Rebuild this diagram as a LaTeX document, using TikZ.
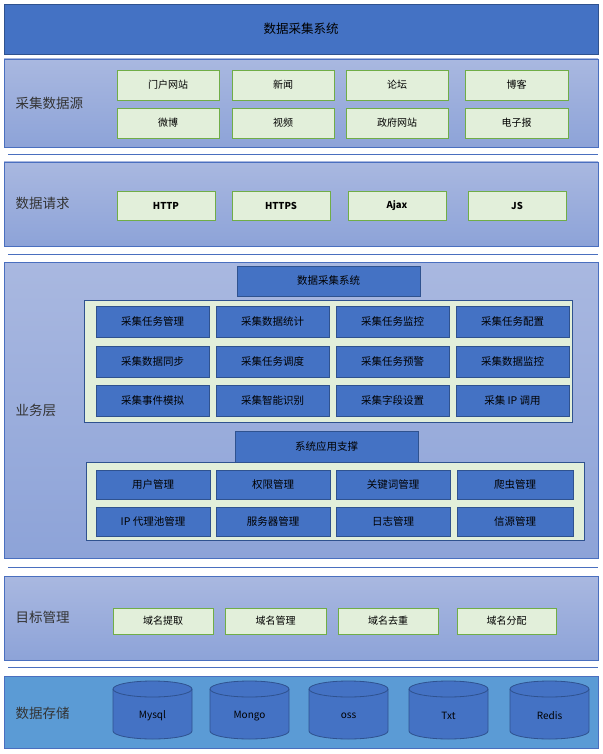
\documentclass[tikz,border=0pt]{standalone}
\usepackage{fontspec}
\setmainfont{Noto Sans CJK SC}
\begin{document}
\begin{tikzpicture}[x=1pt,y=1pt,
  layer/.style={draw=laybd,line width=0.8pt,top color=laytop,bottom color=laybot},
  green/.style={draw=grnbd,fill=grnfill,line width=0.8pt,font=\fontsize{10}{12}\selectfont,text=black},
  dark/.style={draw=drkbd,fill=drk,line width=0.8pt,font=\fontsize{10.5}{12}\selectfont,text=black},
  lbl/.style={anchor=west,font=\fontsize{13.5}{16}\selectfont,text=black!80},
  sep/.style={draw=laybd,line width=0.8pt}]
\definecolor{laybd}{HTML}{4A6FBF}
\definecolor{laytop}{HTML}{A9B8E0}
\definecolor{laybot}{HTML}{8DA3D8}
\definecolor{grnbd}{HTML}{70AD47}
\definecolor{grnfill}{HTML}{E2EFDA}
\definecolor{drk}{HTML}{4472C4}
\definecolor{drkbd}{HTML}{2F528F}
\definecolor{store}{HTML}{5B9BD5}
\newcommand{\bx}[7]{\node[#6,inner sep=0pt,outer sep=0pt,minimum width={(#4-#2)*1pt},minimum height={(#5-#3)*1pt}] (#1) at ({(#2+#4)/2},{-(#3+#5)/2}) {#7};}
\useasboundingbox (0,0) rectangle (602,-754);
% title
\bx{title}{4}{4}{598}{54}{draw=drkbd,fill=drk,line width=0.8pt,font=\fontsize{12.5}{14}\selectfont}{数据采集系统}
% layer 1
\bx{L1}{4}{59}{598}{147}{layer}{}
\node[lbl] (l1) at (12,-103) {采集数据源};
\bx{a1}{117}{70}{219}{100}{green}{门户网站}
\bx{a2}{232}{70}{334}{100}{green}{新闻}
\bx{a3}{346}{70}{448}{100}{green}{论坛}
\bx{a4}{465}{70}{568}{100}{green}{博客}
\bx{a5}{117}{108}{219}{138}{green}{微博}
\bx{a6}{232}{108}{334}{138}{green}{视频}
\bx{a7}{346}{108}{448}{138}{green}{政府网站}
\bx{a8}{465}{108}{568}{138}{green}{电子报}
\coordinate (s1a) at (8,-154); \coordinate (s1b) at (598,-154);
\draw[sep] (s1a) -- (s1b);
% layer 2
\bx{L2}{4}{162}{598}{246}{layer}{}
\node[lbl] (l2) at (12,-203) {数据请求};
\bx{b1}{117}{191}{215}{220}{green,font=\fontsize{9.5}{11}\selectfont\bfseries}{HTTP}
\bx{b2}{232}{191}{330}{220}{green,font=\fontsize{9.5}{11}\selectfont\bfseries}{HTTPS}
\bx{b3}{348}{191}{446}{220}{green,font=\fontsize{9.5}{11}\selectfont\bfseries}{Ajax}
\bx{b4}{468}{191}{566}{220}{green,font=\fontsize{9.5}{11}\selectfont\bfseries}{JS}
\coordinate (s2a) at (8,-254); \coordinate (s2b) at (598,-254);
\draw[sep] (s2a) -- (s2b);
% layer 3
\bx{L3}{4}{262}{598}{558}{layer}{}
\node[lbl] (l3) at (12,-410) {业务层};
\bx{c0}{237}{266}{420}{296}{dark}{数据采集系统}
\bx{P1}{84}{300}{572}{422}{draw=drkbd,fill=grnfill,line width=0.8pt}{}
\bx{c1}{96}{306}{209}{337}{dark}{采集任务管理}
\bx{c2}{216}{306}{329}{337}{dark}{采集数据统计}
\bx{c3}{336}{306}{449}{337}{dark}{采集任务监控}
\bx{c4}{456}{306}{569}{337}{dark}{采集任务配置}
\bx{c5}{96}{346}{209}{377}{dark}{采集数据同步}
\bx{c6}{216}{346}{329}{377}{dark}{采集任务调度}
\bx{c7}{336}{346}{449}{377}{dark}{采集任务预警}
\bx{c8}{456}{346}{569}{377}{dark}{采集数据监控}
\bx{c9}{96}{385}{209}{416}{dark}{采集事件模拟}
\bx{c10}{216}{385}{329}{416}{dark}{采集智能识别}
\bx{c11}{336}{385}{449}{416}{dark}{采集字段设置}
\bx{c12}{456}{385}{569}{416}{dark}{采集 IP 调用}
\bx{d0}{235}{431}{418}{462}{dark}{系统应用支撑}
\bx{P2}{86}{462}{584}{540}{draw=drkbd,fill=grnfill,line width=0.8pt}{}
\bx{d1}{96}{470}{210}{499}{dark}{用户管理}
\bx{d2}{216}{470}{330}{499}{dark}{权限管理}
\bx{d3}{336}{470}{450}{499}{dark}{关键词管理}
\bx{d4}{457}{470}{573}{499}{dark}{爬虫管理}
\bx{d5}{96}{507}{210}{536}{dark}{IP 代理池管理}
\bx{d6}{216}{507}{330}{536}{dark}{服务器管理}
\bx{d7}{336}{507}{450}{536}{dark}{日志管理}
\bx{d8}{457}{507}{573}{536}{dark}{信源管理}
\coordinate (s3a) at (8,-567); \coordinate (s3b) at (598,-567);
\draw[sep] (s3a) -- (s3b);
% layer 4
\bx{L4}{4}{576}{598}{660}{layer}{}
\node[lbl] (l4) at (12,-617) {目标管理};
\bx{e1}{113}{608}{213}{634}{green}{域名提取}
\bx{e2}{225}{608}{326}{634}{green}{域名管理}
\bx{e3}{338}{608}{438}{634}{green}{域名去重}
\bx{e4}{457}{608}{556}{634}{green}{域名分配}
\coordinate (s4a) at (8,-667); \coordinate (s4b) at (598,-667);
\draw[sep] (s4a) -- (s4b);
% layer 5
\bx{L5}{4}{676}{598}{748}{draw=laybd,fill=store,line width=0.8pt}{}
\node[lbl] (l5) at (12,-713) {数据存储};
\foreach \n/\xa/\t in {f1/113/Mysql,f2/210/Mongo,f3/309/oss,f4/409/Txt,f5/510/Redis}{
  \pgfmathsetmacro{\xb}{\xa+79}
  \pgfmathsetmacro{\xm}{\xa+39.5}
  \draw[draw=drkbd,fill=drk,line width=0.8pt] (\xa,-689) -- (\xa,-731) arc[start angle=180,end angle=360,x radius=39.5,y radius=8] -- (\xb,-689) arc[start angle=0,end angle=180,x radius=39.5,y radius=8] -- cycle;
  \draw[draw=drkbd,line width=0.8pt] (\xa,-689) arc[start angle=180,end angle=360,x radius=39.5,y radius=8];
  \node[font=\fontsize{10}{12}\selectfont,text=black] (\n) at (\xm,-716) {\t};
}
\end{tikzpicture}
\end{document}
